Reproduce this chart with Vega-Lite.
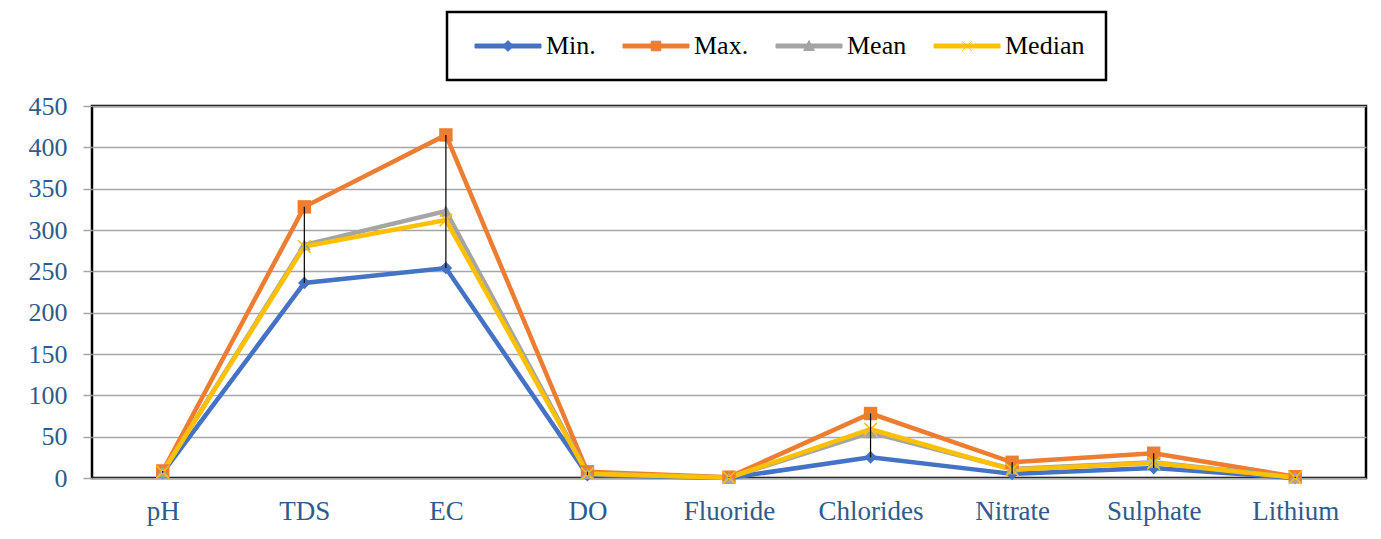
{
  "$schema": "https://vega.github.io/schema/vega-lite/v6.json",
  "width": 1274,
  "height": 372,
  "autosize": {"type": "none"},
  "padding": {"left": 92, "top": 106, "right": 15, "bottom": 61},
  "background": "white",
  "data": {
    "values": [
      {"param": "pH", "stat": "Min.", "value": 6.5},
      {"param": "TDS", "stat": "Min.", "value": 236},
      {"param": "EC", "stat": "Min.", "value": 254},
      {"param": "DO", "stat": "Min.", "value": 3.5},
      {"param": "Fluoride", "stat": "Min.", "value": 0.1},
      {"param": "Chlorides", "stat": "Min.", "value": 25},
      {"param": "Nitrate", "stat": "Min.", "value": 5},
      {"param": "Sulphate", "stat": "Min.", "value": 12},
      {"param": "Lithium", "stat": "Min.", "value": 0.1},
      {"param": "pH", "stat": "Max.", "value": 8.5},
      {"param": "TDS", "stat": "Max.", "value": 328},
      {"param": "EC", "stat": "Max.", "value": 415},
      {"param": "DO", "stat": "Max.", "value": 7.5},
      {"param": "Fluoride", "stat": "Max.", "value": 1.0},
      {"param": "Chlorides", "stat": "Max.", "value": 78},
      {"param": "Nitrate", "stat": "Max.", "value": 19},
      {"param": "Sulphate", "stat": "Max.", "value": 30},
      {"param": "Lithium", "stat": "Max.", "value": 1.5},
      {"param": "pH", "stat": "Mean", "value": 7.3},
      {"param": "TDS", "stat": "Mean", "value": 282},
      {"param": "EC", "stat": "Mean", "value": 323},
      {"param": "DO", "stat": "Mean", "value": 5.5},
      {"param": "Fluoride", "stat": "Mean", "value": 0.4},
      {"param": "Chlorides", "stat": "Mean", "value": 55},
      {"param": "Nitrate", "stat": "Mean", "value": 11},
      {"param": "Sulphate", "stat": "Mean", "value": 19},
      {"param": "Lithium", "stat": "Mean", "value": 0.6},
      {"param": "pH", "stat": "Median", "value": 7.2},
      {"param": "TDS", "stat": "Median", "value": 280},
      {"param": "EC", "stat": "Median", "value": 312},
      {"param": "DO", "stat": "Median", "value": 5.2},
      {"param": "Fluoride", "stat": "Median", "value": 0.4},
      {"param": "Chlorides", "stat": "Median", "value": 59},
      {"param": "Nitrate", "stat": "Median", "value": 10},
      {"param": "Sulphate", "stat": "Median", "value": 18},
      {"param": "Lithium", "stat": "Median", "value": 0.5}
    ]
  },
  "encoding": {
    "x": {
      "field": "param",
      "type": "nominal",
      "sort": ["pH", "TDS", "EC", "DO", "Fluoride", "Chlorides", "Nitrate", "Sulphate", "Lithium"],
      "scale": {"type": "point", "padding": 0.5},
      "axis": {
        "title": null,
        "labelAngle": 0,
        "ticks": false,
        "domain": false,
        "labelPadding": 20,
        "labelFont": "Liberation Serif",
        "labelFontSize": 27,
        "labelColor": "#2E5B8C"
      }
    },
    "y": {
      "field": "value",
      "type": "quantitative",
      "scale": {"domain": [0, 450], "nice": false},
      "axis": {
        "title": null,
        "values": [0, 50, 100, 150, 200, 250, 300, 350, 400, 450],
        "domain": false,
        "grid": true,
        "gridColor": "#A6A6A6",
        "gridWidth": 1.5,
        "tickColor": "#A6A6A6",
        "tickWidth": 1.5,
        "tickSize": 9,
        "labelPadding": 16,
        "labelFont": "Liberation Serif",
        "labelFontSize": 26,
        "labelColor": "#2E5B8C"
      }
    }
  },
  "layer": [
    {
      "mark": {"type": "line", "strokeWidth": 4.5},
      "encoding": {
        "color": {
          "field": "stat",
          "type": "nominal",
          "sort": ["Min.", "Max.", "Mean", "Median"],
          "scale": {"domain": ["Min.", "Max.", "Mean", "Median"], "range": ["#4472C4", "#ED7D31", "#A5A5A5", "#FFC000"]},
          "legend": {
            "title": null,
            "orient": "none",
            "legendX": 355,
            "legendY": -94,
            "direction": "horizontal",
            "strokeColor": "black",
            "fillColor": "white",
            "padding": 21,
            "columnPadding": 20,
            "labelOffset": 52,
            "labelFont": "Liberation Serif",
            "labelFontSize": 26,
            "labelColor": "black",
            "symbolSize": 144,
            "encode": {
              "legend": {"update": {"strokeWidth": {"value": 2.5}}},
              "symbols": {
                "update": {
                  "shape": {"signal": "datum.value === 'Min.' ? 'M-1,-0.33H10V0.33H-1Z M4.5,-0.9L5.4,0L4.5,0.9L3.6,0Z' : datum.value === 'Max.' ? 'M-1,-0.33H10V0.33H-1Z M3.7,-0.8H5.3V0.8H3.7Z' : datum.value === 'Mean' ? 'M-1,-0.33H10V0.33H-1Z M4.5,-0.9L5.4,0.75H3.6Z' : 'M-1,-0.33H10V0.33H-1Z M3.7,-0.8L5.3,0.8M3.7,0.8L5.3,-0.8'"},
                  "fill": {"scale": "color", "field": "value"},
                  "stroke": {"scale": "color", "field": "value"},
                  "strokeWidth": {"value": 1},
                  "opacity": {"value": 1},
                  "fillOpacity": {"value": 1}
                }
              }
            }
          }
        }
      }
    },
    {
      "transform": [{"filter": "datum.stat === 'Min.'"}],
      "mark": {"type": "point", "shape": "diamond", "filled": true, "size": 160, "opacity": 1, "color": "#4472C4"},
      "encoding": {}
    },
    {
      "transform": [{"filter": "datum.stat === 'Max.'"}],
      "mark": {"type": "point", "shape": "square", "filled": true, "size": 180, "opacity": 1, "color": "#ED7D31"},
      "encoding": {}
    },
    {
      "transform": [{"filter": "datum.stat === 'Mean'"}],
      "mark": {"type": "point", "shape": "triangle-up", "filled": true, "size": 170, "opacity": 1, "color": "#A5A5A5"},
      "encoding": {}
    },
    {
      "transform": [{"filter": "datum.stat === 'Median'"}],
      "mark": {"type": "point", "shape": "M-1,-1L1,1M-1,1L1,-1", "filled": false, "size": 160, "opacity": 1, "color": "#FFC000", "strokeWidth": 1.5},
      "encoding": {}
    },
    {
      "transform": [
        {"aggregate": [{"op": "min", "field": "value", "as": "lo"}, {"op": "max", "field": "value", "as": "hi"}], "groupby": ["param"]}
      ],
      "mark": {"type": "rule", "color": "black", "strokeWidth": 1.2},
      "encoding": {
        "y": {"field": "lo", "type": "quantitative"},
        "y2": {"field": "hi"}
      }
    }
  ],
  "config": {
    "view": {"stroke": "black", "strokeWidth": 2.5}
  }
}
